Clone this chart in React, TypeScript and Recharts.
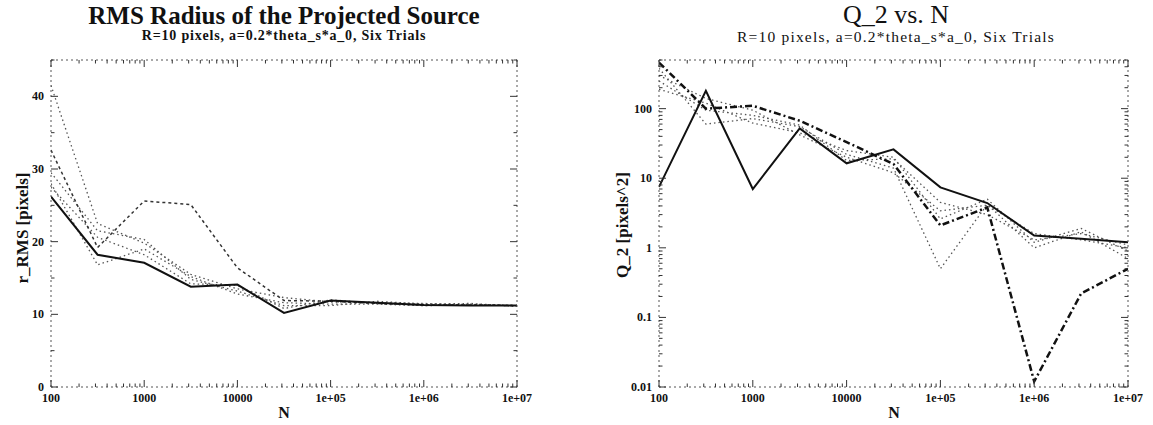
import React from "react";
import { LineChart, Line, XAxis, YAxis } from "recharts";

// sample sizes (half decades)
const nValues = [100, 316, 1000, 3162, 10000, 31623, 100000, 316228, 1000000, 3162278, 10000000];

// r_RMS, six trials
const rmsTrial1 = [26.2, 18.2, 17.1, 13.8, 14.1, 10.2, 11.9, 11.6, 11.3, 11.2, 11.2];
const rmsTrial2 = [32.6, 19.2, 25.6, 25.1, 16.4, 11.9, 11.8, 11.5, 11.3, 11.3, 11.2];
const rmsTrial3 = [41.5, 22.5, 19.8, 15.5, 13.5, 12.3, 11.7, 11.6, 11.5, 11.3, 11.2];
const rmsTrial4 = [29.5, 21.5, 20.3, 14.8, 13.2, 11.2, 11.2, 11.8, 11.4, 11.5, 11.1];
const rmsTrial5 = [28, 16.8, 19, 15.2, 12.8, 11.6, 11.4, 11.4, 11.2, 11.3, 11.2];
const rmsTrial6 = [27.5, 20.6, 18.2, 14.2, 14, 10.8, 12, 11.5, 11.2, 11.4, 11.2];

// Q_2, six trials
const q2Trial1 = [7.5, 181, 7, 52, 16.4, 26, 7.4, 4.4, 1.5, 1.35, 1.2];
const q2Trial2 = [460, 100, 110, 67, 33, 16, 2.1, 3.8, 0.012, 0.22, 0.5];
const q2Trial3 = [380, 60, 72, 55, 22, 14, 0.5, 4.2, 1, 1.7, 0.7];
const q2Trial4 = [250, 95, 80, 58, 18, 19, 4.5, 3, 1.3, 1.6, 1.1];
const q2Trial5 = [190, 120, 62, 45, 25, 20, 2.6, 5, 1.2, 1.9, 0.9];
const q2Trial6 = [300, 140, 95, 42, 20, 12, 3.4, 4.1, 1.6, 1.3, 1.0];

const xMajor = [100, 1000, 10000, 100000, 1000000, 10000000];
const xMajorLabels = ["100", "1000", "10000", "1e+05", "1e+06", "1e+07"];
const rmsMajor = [0, 10, 20, 30, 40];
const q2Major = [0.01, 0.1, 1, 10, 100];
const q2MajorLabels = ["0.01", "0.1", "1", "10", "100"];

const SERIF = "'Liberation Serif', 'Times New Roman', serif";
const AXIS = "#555";

function logTicks(from: number, to: number) {
  const out: number[] = [];
  for (let d = from; d < to * 1.0001; d *= 10) {
    for (let m = 1; m <= 9; m++) {
      const v = d * m;
      if (v <= to * 1.0001) out.push(v);
    }
  }
  return out;
}

const xTicks = logTicks(100, 10000000);
const q2Ticks = logTicks(0.01, 500);
const rmsTicks = [0, 5, 10, 15, 20, 25, 30, 35, 40, 45];

function majorIndex(list: number[], v: number) {
  return list.findIndex((m) => Math.abs(m - v) / Math.max(m, 1e-9) < 1e-6 || (m === 0 && v === 0));
}

function rmsRows() {
  return nValues.map((n, i) => ({
    n,
    t1: rmsTrial1[i],
    t2: rmsTrial2[i],
    t3: rmsTrial3[i],
    t4: rmsTrial4[i],
    t5: rmsTrial5[i],
    t6: rmsTrial6[i],
  }));
}

function q2Rows() {
  return nValues.map((n, i) => ({
    n,
    t1: q2Trial1[i],
    t2: q2Trial2[i],
    t3: q2Trial3[i],
    t4: q2Trial4[i],
    t5: q2Trial5[i],
    t6: q2Trial6[i],
  }));
}

const tickText = {
  fontFamily: SERIF,
  fontWeight: 700,
  fontSize: 12,
  fill: "#111",
} as const;

function XTick(props: any) {
  const { x, y, payload, side } = props;
  const idx = majorIndex(xMajor, payload.value);
  const len = idx >= 0 ? 7 : 3.5;
  const dir = side === "top" ? 1 : -1;
  return (
    <g>
      <line x1={x} x2={x} y1={y} y2={y + dir * len} stroke="#333" />
      {side === "bottom" && idx >= 0 && (
        <text x={x} y={y + 15} textAnchor="middle" {...tickText}>
          {xMajorLabels[idx]}
        </text>
      )}
    </g>
  );
}

function YTick(props: any) {
  const { x, y, payload, side, majors, labels } = props;
  const idx = majorIndex(majors, payload.value);
  const len = idx >= 0 ? 7 : 3.5;
  const dir = side === "left" ? 1 : -1;
  return (
    <g>
      <line x1={x} x2={x + dir * len} y1={y} y2={y} stroke="#333" />
      {side === "left" && idx >= 0 && (
        <text x={x - 7} y={y + 4} textAnchor="end" {...tickText}>
          {labels ? labels[idx] : String(payload.value)}
        </text>
      )}
    </g>
  );
}

const solid = { stroke: "#111", strokeWidth: 2 };
const dashed = { stroke: "#333", strokeWidth: 1.5, strokeDasharray: "3 3" };
const dotted = { stroke: "#555", strokeWidth: 1.3, strokeDasharray: "1.5 3" };
const dashDot = { stroke: "#111", strokeWidth: 2.5, strokeDasharray: "7 3 2 3" };

function Title({ x, text, size, weight, top, spacing }: any) {
  return (
    <div
      style={{
        position: "absolute",
        left: x,
        top,
        transform: "translateX(-50%)",
        whiteSpace: "nowrap",
        fontFamily: SERIF,
        fontSize: size,
        fontWeight: weight,
        letterSpacing: spacing || 0,
        lineHeight: 1,
        color: "#111",
      }}
    >
      {text}
    </div>
  );
}

function YTitle({ x, y, text }: any) {
  return (
    <div
      style={{
        position: "absolute",
        left: x,
        top: y,
        transform: "translate(-50%, -50%) rotate(-90deg)",
        whiteSpace: "nowrap",
        fontFamily: SERIF,
        fontSize: 17,
        fontWeight: 700,
        lineHeight: 1,
        color: "#111",
      }}
    >
      {text}
    </div>
  );
}

function RmsChart() {
  return (
    <LineChart
      width={576}
      height={425}
      data={rmsRows()}
      margin={{ top: 55, right: 49, bottom: 8, left: 10 }}
    >
      <XAxis
        xAxisId="b"
        dataKey="n"
        type="number"
        scale="log"
        domain={[100, 10000000]}
        allowDataOverflow
        ticks={xTicks}
        interval={0}
        height={30}
        tickSize={0}
        tickMargin={0}
        stroke={AXIS}
        strokeDasharray="2 3"
        tick={(p: any) => <XTick {...p} side="bottom" />}
      />
      <XAxis
        xAxisId="t"
        orientation="top"
        dataKey="n"
        type="number"
        scale="log"
        domain={[100, 10000000]}
        allowDataOverflow
        ticks={xTicks}
        interval={0}
        height={5}
        tickSize={0}
        tickMargin={0}
        stroke={AXIS}
        strokeDasharray="2 3"
        tick={(p: any) => <XTick {...p} side="top" />}
      />
      <YAxis
        yAxisId="l"
        type="number"
        domain={[0, 45]}
        allowDataOverflow
        ticks={rmsTicks}
        interval={0}
        width={41}
        tickSize={0}
        tickMargin={0}
        stroke={AXIS}
        strokeDasharray="2 3"
        tick={(p: any) => <YTick {...p} side="left" majors={rmsMajor} />}
      />
      <YAxis
        yAxisId="r"
        orientation="right"
        type="number"
        domain={[0, 45]}
        allowDataOverflow
        ticks={rmsTicks}
        interval={0}
        width={10}
        tickSize={0}
        tickMargin={0}
        stroke={AXIS}
        strokeDasharray="2 3"
        tick={(p: any) => <YTick {...p} side="right" majors={rmsMajor} />}
      />
      <Line xAxisId="b" yAxisId="l" dataKey="t3" type="linear" dot={false} {...dotted} isAnimationActive={false} />
      <Line xAxisId="b" yAxisId="l" dataKey="t4" type="linear" dot={false} {...dotted} isAnimationActive={false} />
      <Line xAxisId="b" yAxisId="l" dataKey="t5" type="linear" dot={false} {...dotted} isAnimationActive={false} />
      <Line xAxisId="b" yAxisId="l" dataKey="t6" type="linear" dot={false} {...dotted} isAnimationActive={false} />
      <Line xAxisId="b" yAxisId="l" dataKey="t2" type="linear" dot={false} {...dashed} isAnimationActive={false} />
      <Line xAxisId="b" yAxisId="l" dataKey="t1" type="linear" dot={false} {...solid} isAnimationActive={false} />
    </LineChart>
  );
}

function Q2Chart() {
  return (
    <LineChart
      width={577}
      height={425}
      data={q2Rows()}
      margin={{ top: 55, right: 15, bottom: 8, left: 43 }}
    >
      <XAxis
        xAxisId="b"
        dataKey="n"
        type="number"
        scale="log"
        domain={[100, 10000000]}
        allowDataOverflow
        ticks={xTicks}
        interval={0}
        height={30}
        tickSize={0}
        tickMargin={0}
        stroke={AXIS}
        strokeDasharray="2 3"
        tick={(p: any) => <XTick {...p} side="bottom" />}
      />
      <XAxis
        xAxisId="t"
        orientation="top"
        dataKey="n"
        type="number"
        scale="log"
        domain={[100, 10000000]}
        allowDataOverflow
        ticks={xTicks}
        interval={0}
        height={5}
        tickSize={0}
        tickMargin={0}
        stroke={AXIS}
        strokeDasharray="2 3"
        tick={(p: any) => <XTick {...p} side="top" />}
      />
      <YAxis
        yAxisId="l"
        type="number"
        scale="log"
        domain={[0.01, 500]}
        allowDataOverflow
        ticks={q2Ticks}
        interval={0}
        width={40}
        tickSize={0}
        tickMargin={0}
        stroke={AXIS}
        strokeDasharray="2 3"
        tick={(p: any) => <YTick {...p} side="left" majors={q2Major} labels={q2MajorLabels} />}
      />
      <YAxis
        yAxisId="r"
        orientation="right"
        type="number"
        scale="log"
        domain={[0.01, 500]}
        allowDataOverflow
        ticks={q2Ticks}
        interval={0}
        width={10}
        tickSize={0}
        tickMargin={0}
        stroke={AXIS}
        strokeDasharray="2 3"
        tick={(p: any) => <YTick {...p} side="right" majors={q2Major} />}
      />
      <Line xAxisId="b" yAxisId="l" dataKey="t3" type="linear" dot={false} {...dotted} isAnimationActive={false} />
      <Line xAxisId="b" yAxisId="l" dataKey="t4" type="linear" dot={false} {...dotted} isAnimationActive={false} />
      <Line xAxisId="b" yAxisId="l" dataKey="t5" type="linear" dot={false} {...dotted} isAnimationActive={false} />
      <Line xAxisId="b" yAxisId="l" dataKey="t6" type="linear" dot={false} {...dotted} isAnimationActive={false} />
      <Line xAxisId="b" yAxisId="l" dataKey="t2" type="linear" dot={false} {...dashDot} isAnimationActive={false} />
      <Line xAxisId="b" yAxisId="l" dataKey="t1" type="linear" dot={false} {...solid} isAnimationActive={false} />
    </LineChart>
  );
}

export default function App() {
  return (
    <div
      style={{
        position: "absolute",
        left: 0,
        top: 0,
        width: 1153,
        height: 425,
        background: "#fff",
        overflow: "hidden",
      }}
    >
      <div style={{ position: "absolute", left: 0, top: 0 }}>
        <RmsChart />
      </div>
      <div style={{ position: "absolute", left: 576, top: 0 }}>
        <Q2Chart />
      </div>

      <Title x={284} top={3} size={25} weight={700} text="RMS Radius of the Projected Source" />
      <Title x={284} top={29} size={14} weight={700} spacing={0.8} text="R=10 pixels, a=0.2*theta_s*a_0, Six Trials" />
      <Title x={896} top={2} size={26} weight={400} text="Q_2 vs. N" />
      <Title x={896} top={29} size={15.5} weight={400} spacing={1.2} text="R=10 pixels, a=0.2*theta_s*a_0, Six Trials" />

      <Title x={284} top={405} size={16} weight={700} text="N" />
      <Title x={894} top={405} size={16} weight={700} text="N" />

      <YTitle x={22} y={228} text="r_RMS [pixels]" />
      <YTitle x={622} y={225} text="Q_2 [pixels^2]" />
    </div>
  );
}
